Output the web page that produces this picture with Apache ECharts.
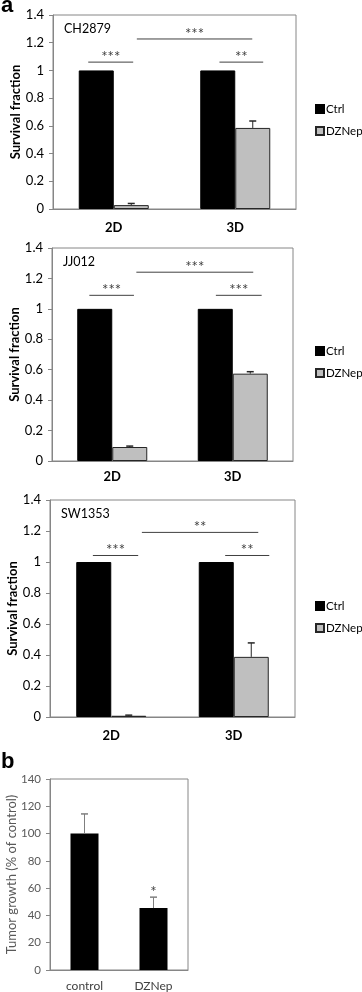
<!DOCTYPE html>
<html lang="en">
<head>
    <meta charset="UTF-8">
    <title>Survival fraction / tumor growth</title>
    <script src="https://cdn.jsdelivr.net/npm/echarts@6.0.0/dist/echarts.min.js"></script>
    <style>
        html, body { margin: 0; padding: 0; background: #fff; }
        #main { width: 362px; height: 992px; }
    </style>
</head>
<body>
<div id="main"></div>
<script>
    // panel a data
    var categories = ['2D', '3D'];
    var cellLines = ['CH2879', 'JJ012', 'SW1353'];
    var ctrlFraction = [[1, 1], [1, 1], [1, 1]];
    var dzFraction = [[0.028, 0.585], [0.092, 0.574], [0.008, 0.388]];
    var dzError = [[0.012, 0.05], [0.006, 0.013], [0.004, 0.09]];
    var yTicksA = [0, 1.4, 0.2];   // min, max, step
    // significance brackets: [from, to (category units from 2D centre), height, stars]
    var sigBrackets = [
        [[-0.21, 0.16, 1.06, '***'], [0.19, 1.14, 1.227, '***'], [0.87, 1.23, 1.06, '**']],
        [[-0.19, 0.18, 1.089, '***'], [0.20, 1.17, 1.241, '***'], [0.86, 1.24, 1.089, '***']],
        [[-0.15, 0.22, 1.042, '***'], [0.25, 1.20, 1.191, '**'], [0.93, 1.29, 1.042, '**']]
    ];

    // panel b data
    var bCategories = ['control', 'DZNep'];
    var bGrowth = [100, 45.4];
    var bError = [14.4, 8];
    var bStars = ['', '*'];
    var yTicksB = [0, 140, 20];

    var FONT = 'Lato, "Liberation Sans", sans-serif';

    // layout of the four plots (px)
    var grids = [
        {left: 53, top: 15, width: 243, height: 194},
        {left: 52, top: 248, width: 241, height: 213},
        {left: 50, top: 500, width: 245, height: 217},
        {left: 50, top: 779, width: 138, height: 191}
    ];
    var barW = 35;
    var legendTops = [103, 345, 600];
    var labelMargins = [12, 9, 12];

    function errRender(offset, color, stars) {
        return function (params, api) {
            var i = api.value(0), v = api.value(1), e = api.value(2);
            var p0 = api.coord([i, v]);
            var p1 = api.coord([i, v + e]);
            var x = p0[0] + offset;
            var kids = [
                {type: 'line', shape: {x1: x, y1: p0[1], x2: x, y2: p1[1]}, style: {stroke: color, lineWidth: 1}},
                {type: 'line', shape: {x1: x - 3.5, y1: p1[1], x2: x + 3.5, y2: p1[1]}, style: {stroke: color, lineWidth: 1.5}}
            ];
            if (stars && stars[params.dataIndex]) {
                kids.push({type: 'text', style: {text: stars[params.dataIndex], x: x, y: p1[1] - 5,
                    textAlign: 'center', textVerticalAlign: 'middle', font: '15px ' + FONT, fill: '#404040'}});
            }
            return {type: 'group', children: kids};
        };
    }

    function sigRender(list) {
        return function (params, api) {
            var s = list[params.dataIndex];
            var c = api.coord([0, s[2]]);
            var band = api.size([1, 0])[0];
            var x0 = c[0] + s[0] * band, x1 = c[0] + s[1] * band;
            return {type: 'group', children: [
                {type: 'line', shape: {x1: x0, y1: c[1], x2: x1, y2: c[1]}, style: {stroke: '#404040', lineWidth: 1}},
                {type: 'text', style: {text: s[3], x: (x0 + x1) / 2, y: c[1] - 5, textAlign: 'center',
                    textVerticalAlign: 'middle', font: '15px ' + FONT, fill: '#404040'}}
            ]};
        };
    }

    var option = {
        animation: false,
        grid: [], xAxis: [], yAxis: [], series: [], legend: [], graphic: []
    };

    grids.forEach(function (g) {
        option.grid.push({left: g.left, top: g.top, width: g.width, height: g.height,
            show: true, borderColor: '#868686', borderWidth: 1, containLabel: false, outerBoundsMode: 'none'});
    });

    for (var k = 0; k < 3; k++) {
        option.xAxis.push({
            type: 'category', gridIndex: k, data: categories,
            axisLine: {lineStyle: {color: '#868686'}},
            axisTick: {length: 5, lineStyle: {color: '#868686'}},
            axisLabel: {color: '#000', fontFamily: FONT, fontSize: 13, fontWeight: 'bold', margin: labelMargins[k]}
        });
        option.yAxis.push({
            type: 'value', gridIndex: k, min: yTicksA[0], max: yTicksA[1], interval: yTicksA[2],
            name: 'Survival fraction', nameLocation: 'middle', nameGap: 31, nameMoveOverlap: false,
            nameTextStyle: {color: '#000', fontFamily: FONT, fontSize: 13, fontWeight: 'bold'},
            axisLine: {show: true, lineStyle: {color: '#868686'}},
            axisTick: {show: true, length: 4, lineStyle: {color: '#868686'}},
            axisLabel: {color: '#000', fontFamily: FONT, fontSize: 13, margin: 9},
            splitLine: {show: false}
        });
        option.series.push({
            name: 'Ctrl', type: 'bar', xAxisIndex: k, yAxisIndex: k, data: ctrlFraction[k],
            barWidth: barW, barGap: '0%',
            itemStyle: {color: '#000', borderColor: '#000', borderWidth: 1}
        });
        option.series.push({
            name: 'DZNep', type: 'bar', xAxisIndex: k, yAxisIndex: k, data: dzFraction[k],
            barWidth: barW, barGap: '0%',
            itemStyle: {color: '#bfbfbf', borderColor: '#262626', borderWidth: 1}
        });
        option.series.push({
            type: 'custom', xAxisIndex: k, yAxisIndex: k, z: 5, silent: true,
            data: dzFraction[k].map(function (v, i) { return [i, v, dzError[k][i]]; }),
            encode: {x: 0, y: 1},
            renderItem: errRender(barW / 2, '#262626')
        });
        option.series.push({
            type: 'custom', xAxisIndex: k, yAxisIndex: k, z: 5, silent: true,
            data: sigBrackets[k].map(function (s) { return [0, s[2]]; }),
            encode: {x: 0, y: 1},
            renderItem: sigRender(sigBrackets[k])
        });
        option.legend.push({
            data: ['Ctrl', 'DZNep'], orient: 'vertical', left: 315, top: legendTops[k], padding: 0,
            itemWidth: 8, itemHeight: 8, itemGap: 10, icon: 'rect', selectedMode: false,
            textStyle: {color: '#000', fontFamily: FONT, fontSize: 11.5, padding: [0, 0, 0, -3]}
        });
        option.graphic.push({
            type: 'text', left: grids[k].left + 11, top: grids[k].top + 7,
            style: {text: cellLines[k], font: '12.5px ' + FONT, fill: '#000'}
        });
    }

    // panel b
    option.xAxis.push({
        type: 'category', gridIndex: 3, data: bCategories,
        axisLine: {lineStyle: {color: '#868686'}},
        axisTick: {show: false},
        axisLabel: {color: '#404040', fontFamily: FONT, fontSize: 12, margin: 10}
    });
    option.yAxis.push({
        type: 'value', gridIndex: 3, min: yTicksB[0], max: yTicksB[1], interval: yTicksB[2],
        name: 'Tumor growth (% of control)', nameLocation: 'middle', nameGap: 32, nameMoveOverlap: false,
        nameTextStyle: {color: '#595959', fontFamily: FONT, fontSize: 13},
        axisLine: {show: true, lineStyle: {color: '#868686'}},
        axisTick: {show: true, length: 4, lineStyle: {color: '#868686'}},
        axisLabel: {color: '#595959', fontFamily: FONT, fontSize: 11.5, margin: 9},
        splitLine: {show: false}
    });
    option.series.push({
        type: 'bar', xAxisIndex: 3, yAxisIndex: 3, data: bGrowth, barWidth: 28,
        itemStyle: {color: '#000'}
    });
    option.series.push({
        type: 'custom', xAxisIndex: 3, yAxisIndex: 3, z: 5, silent: true,
        data: bGrowth.map(function (v, i) { return [i, v, bError[i]]; }),
        encode: {x: 0, y: 1},
        renderItem: errRender(0, '#7f7f7f', bStars)
    });

    option.graphic.push({type: 'text', left: 1, top: -5, style: {text: 'a', font: 'bold 22px "Liberation Sans", sans-serif', fill: '#000'}});
    option.graphic.push({type: 'text', left: 1, top: 751, style: {text: 'b', font: 'bold 22px "Liberation Sans", sans-serif', fill: '#000'}});

    var myChart = echarts.init(document.getElementById('main'));
    myChart.setOption(option);
</script>
</body>
</html>
